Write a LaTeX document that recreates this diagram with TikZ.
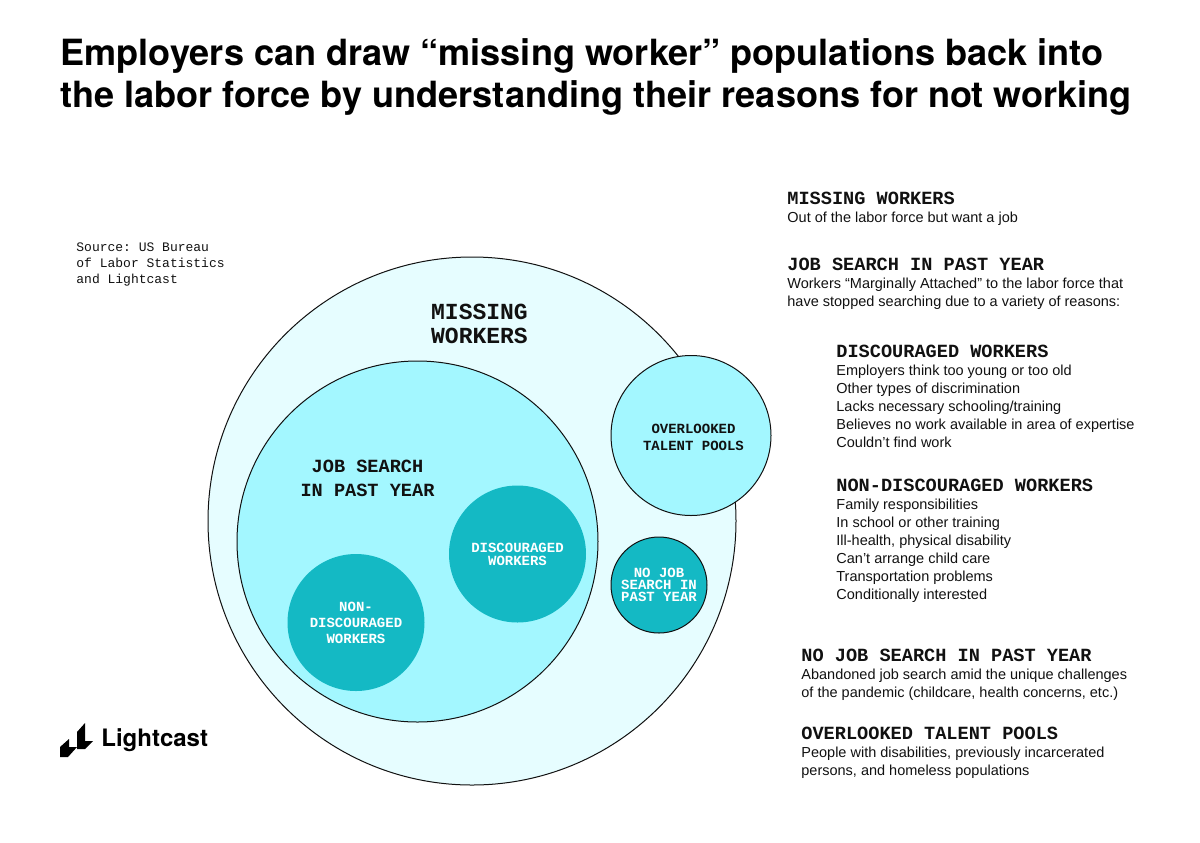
\documentclass[tikz,border=0pt]{standalone}
\usepackage{fontspec}
\setmainfont{Liberation Sans}
\setsansfont{TeX Gyre Heros}
\setmonofont{Liberation Mono}
\usepackage{xcolor}
\usetikzlibrary{positioning}
\definecolor{palecyan}{HTML}{E6FDFF}
\definecolor{midcyan}{HTML}{A3F7FF}
\definecolor{deepcyan}{HTML}{14B9C4}
\definecolor{inkblack}{HTML}{111111}
\tikzset{
  bubble/.style={circle,inner sep=0pt,outer sep=0pt,align=center,text=inkblack},
  rimbubble/.style={bubble,draw=inkblack,line width=0.5pt},
  darkbubble/.style={bubble,fill=deepcyan,text=white},
  ctitle/.style={align=center,inner sep=0pt,text=inkblack,font=\fontsize{11.5}{12}\selectfont\ttfamily\bfseries},
  chead/.style={align=center,inner sep=0pt,text=inkblack,font=\fontsize{9.3}{12}\selectfont\ttfamily\bfseries},
  rhead/.style={anchor=west,inner sep=0pt,text=inkblack,font=\fontsize{9.3}{11}\selectfont\ttfamily\bfseries},
  rbody/.style={anchor=north west,align=left,inner sep=0pt,text=inkblack,font=\fontsize{7.25}{9}\selectfont},
}
\begin{document}
\begin{tikzpicture}[x=0.5pt,y=-0.5pt]
\useasboundingbox (0,0) rectangle (1200,842);
% title
\node[anchor=north west,align=left,inner sep=0pt,text=black,font=\fontsize{18.05}{21}\selectfont\sffamily\bfseries] (title) at (60,38)
  {Employers can draw “missing worker” populations back into\\the labor force by understanding their reasons for not working};
% source
\node[anchor=north west,align=left,inner sep=0pt,text=inkblack,font=\fontsize{6.5}{8}\selectfont\ttfamily] (source) at (76,242)
  {Source: US Bureau\\of Labor Statistics\\and Lightcast};
% nested circles
\node[rimbubble,fill=palecyan,minimum size=264pt] (missing) at (472,521) {};
\node[rimbubble,fill=midcyan,minimum size=180.5pt] (search) at (417.5,541.5) {};
\node[rimbubble,fill=midcyan,minimum size=80pt] (overlooked) at (691,435.5) {};
\node[rimbubble,fill=deepcyan,text=white,minimum size=48pt,font=\fontsize{7}{6}\selectfont\ttfamily\bfseries] (nosearch) at (659,585) {NO JOB\\SEARCH IN\\PAST YEAR};
\node[darkbubble,minimum size=68.5pt,font=\fontsize{7}{6.5}\selectfont\ttfamily\bfseries] (discouraged) at (517.5,554) {DISCOURAGED\\WORKERS};
\node[darkbubble,minimum size=68.5pt,font=\fontsize{7}{8}\selectfont\ttfamily\bfseries] (nondiscouraged) at (356,622.5) {NON-\\DISCOURAGED\\WORKERS};
\node[ctitle] (missinglabel) at (479.5,323.5) {MISSING\\WORKERS};
\node[chead] (searchlabel) at (367.5,478) {JOB SEARCH\\IN PAST YEAR};
\node[chead,font=\fontsize{7}{8.5}\selectfont\ttfamily\bfseries] (overlookedlabel) at (693.5,437.5) {OVERLOOKED\\TALENT POOLS};
% right column
\node[rhead] (h1) at (787,198) {MISSING WORKERS};
\node[rbody] (b1) at (787,212) {Out of the labor force but want a job};
\node[rhead] (h2) at (787,264) {JOB SEARCH IN PAST YEAR};
\node[rbody] (b2) at (787,278) {Workers “Marginally Attached” to the labor force that\\have stopped searching due to a variety of reasons:};
\node[rhead] (h3) at (836,351) {DISCOURAGED WORKERS};
\node[rbody] (b3) at (836,365) {Employers think too young or too old\\Other types of discrimination\\Lacks necessary schooling/training\\Believes no work available in area of expertise\\Couldn’t find work};
\node[rhead] (h4) at (836,485) {NON-DISCOURAGED WORKERS};
\node[rbody] (b4) at (836,499) {Family responsibilities\\In school or other training\\Ill-health, physical disability\\Can’t arrange child care\\Transportation problems\\Conditionally interested};
\node[rhead] (h5) at (801,655) {NO JOB SEARCH IN PAST YEAR};
\node[rbody] (b5) at (801,669) {Abandoned job search amid the unique challenges\\of the pandemic (childcare, health concerns, etc.)};
\node[rhead] (h6) at (801,733) {OVERLOOKED TALENT POOLS};
\node[rbody] (b6) at (801,747) {People with disabilities, previously incarcerated\\persons, and homeless populations};
% logo
\fill[black] (60,747) -- (69,739) -- (69,747) -- (77,747) -- (68,757) -- (60,757) -- cycle;
\fill[black] (77,732) -- (85,723) -- (85,741) -- (93,741) -- (85,749) -- (77,749) -- cycle;
\node[anchor=west,inner sep=0pt,text=black,font=\fontsize{12}{14}\selectfont\sffamily\bfseries] (logotext) at (101,740) {Lightcast};
\end{tikzpicture}
\end{document}
